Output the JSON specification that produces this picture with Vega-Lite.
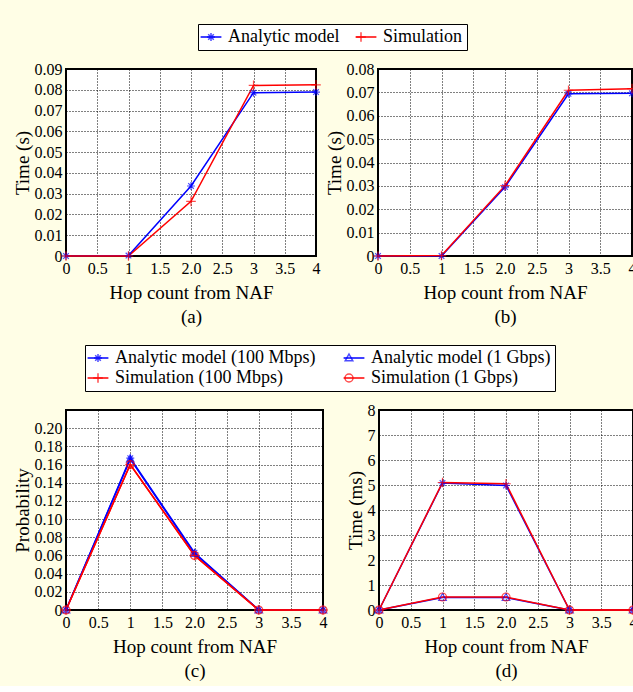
{
  "$schema": "https://vega.github.io/schema/vega-lite/v6.json",
  "background": "#fffee6",
  "padding": {"left": 12, "top": 22, "right": 0, "bottom": 5},
  "config": {
    "font": "Liberation Serif",
    "view": {"stroke": "black", "strokeWidth": 2, "fill": "white"},
    "axis": {
      "labelFont": "Liberation Serif", "labelFontSize": 16, "labelColor": "black",
      "titleFont": "Liberation Serif", "titleFontSize": 19, "titleFontWeight": "normal", "titleColor": "black",
      "grid": true, "gridColor": "#000000", "gridDash": [1, 2], "gridOpacity": 1, "gridWidth": 1,
      "domain": false, "ticks": false, "labelFlush": false, "labelOverlap": false
    },
    "axisX": {"labelPadding": 4, "titlePadding": 7, "titleLineHeight": 24},
    "axisY": {"labelPadding": 4, "titlePadding": 2},
    "legend": {
      "labelFont": "Liberation Serif", "labelFontSize": 18, "labelColor": "black", "labelLimit": 400,
      "fillColor": "white", "strokeColor": "black", "padding": 4,
      "symbolSize": 64, "symbolStrokeWidth": 1.5, "labelOffset": 8, "columnPadding": 12, "rowPadding": 2
    }
  },
  "datasets": {
    "a": [
      {"series": "Analytic model", "hop": 0, "value": 0},
      {"series": "Analytic model", "hop": 1, "value": 0.0002},
      {"series": "Analytic model", "hop": 2, "value": 0.0337},
      {"series": "Analytic model", "hop": 3, "value": 0.0786},
      {"series": "Analytic model", "hop": 4, "value": 0.0789},
      {"series": "Simulation", "hop": 0, "value": 0},
      {"series": "Simulation", "hop": 1, "value": 0},
      {"series": "Simulation", "hop": 2, "value": 0.0263},
      {"series": "Simulation", "hop": 3, "value": 0.0821},
      {"series": "Simulation", "hop": 4, "value": 0.0824}
    ],
    "b": [
      {"series": "Analytic model", "hop": 0, "value": 0},
      {"series": "Analytic model", "hop": 1, "value": 0},
      {"series": "Analytic model", "hop": 2, "value": 0.0295},
      {"series": "Analytic model", "hop": 3, "value": 0.0694},
      {"series": "Analytic model", "hop": 4, "value": 0.0696},
      {"series": "Simulation", "hop": 0, "value": 0},
      {"series": "Simulation", "hop": 1, "value": 0.0002},
      {"series": "Simulation", "hop": 2, "value": 0.0301},
      {"series": "Simulation", "hop": 3, "value": 0.0709},
      {"series": "Simulation", "hop": 4, "value": 0.0716}
    ],
    "c": [
      {"series": "Analytic model (100 Mbps)", "hop": 0, "value": 0},
      {"series": "Analytic model (100 Mbps)", "hop": 1, "value": 0.167},
      {"series": "Analytic model (100 Mbps)", "hop": 2, "value": 0.063},
      {"series": "Analytic model (100 Mbps)", "hop": 3, "value": 0},
      {"series": "Analytic model (100 Mbps)", "hop": 4, "value": 0},
      {"series": "Analytic model (1 Gbps)", "hop": 0, "value": 0},
      {"series": "Analytic model (1 Gbps)", "hop": 1, "value": 0.166},
      {"series": "Analytic model (1 Gbps)", "hop": 2, "value": 0.062},
      {"series": "Analytic model (1 Gbps)", "hop": 3, "value": 0},
      {"series": "Analytic model (1 Gbps)", "hop": 4, "value": 0},
      {"series": "Simulation (100 Mbps)", "hop": 0, "value": 0},
      {"series": "Simulation (100 Mbps)", "hop": 1, "value": 0.160},
      {"series": "Simulation (100 Mbps)", "hop": 2, "value": 0.060},
      {"series": "Simulation (100 Mbps)", "hop": 3, "value": 0},
      {"series": "Simulation (100 Mbps)", "hop": 4, "value": 0},
      {"series": "Simulation (1 Gbps)", "hop": 0, "value": 0},
      {"series": "Simulation (1 Gbps)", "hop": 1, "value": 0.160},
      {"series": "Simulation (1 Gbps)", "hop": 2, "value": 0.060},
      {"series": "Simulation (1 Gbps)", "hop": 3, "value": 0},
      {"series": "Simulation (1 Gbps)", "hop": 4, "value": 0}
    ],
    "d": [
      {"series": "Analytic model (100 Mbps)", "hop": 0, "value": 0},
      {"series": "Analytic model (100 Mbps)", "hop": 1, "value": 5.08},
      {"series": "Analytic model (100 Mbps)", "hop": 2, "value": 4.98},
      {"series": "Analytic model (100 Mbps)", "hop": 3, "value": 0},
      {"series": "Analytic model (100 Mbps)", "hop": 4, "value": 0},
      {"series": "Analytic model (1 Gbps)", "hop": 0, "value": 0},
      {"series": "Analytic model (1 Gbps)", "hop": 1, "value": 0.5},
      {"series": "Analytic model (1 Gbps)", "hop": 2, "value": 0.5},
      {"series": "Analytic model (1 Gbps)", "hop": 3, "value": 0},
      {"series": "Analytic model (1 Gbps)", "hop": 4, "value": 0},
      {"series": "Simulation (100 Mbps)", "hop": 0, "value": 0},
      {"series": "Simulation (100 Mbps)", "hop": 1, "value": 5.1},
      {"series": "Simulation (100 Mbps)", "hop": 2, "value": 5.05},
      {"series": "Simulation (100 Mbps)", "hop": 3, "value": 0},
      {"series": "Simulation (100 Mbps)", "hop": 4, "value": 0},
      {"series": "Simulation (1 Gbps)", "hop": 0, "value": 0},
      {"series": "Simulation (1 Gbps)", "hop": 1, "value": 0.52},
      {"series": "Simulation (1 Gbps)", "hop": 2, "value": 0.52},
      {"series": "Simulation (1 Gbps)", "hop": 3, "value": 0},
      {"series": "Simulation (1 Gbps)", "hop": 4, "value": 0}
    ]
  },
  "vconcat": [
    {
      "hconcat": [
        {
          "width": 250, "height": 187,
          "data": {"name": "a"},
          "encoding": {
            "x": {"field": "hop", "type": "quantitative", "scale": {"domain": [0, 4], "nice": false},
                  "axis": {"values": [0, 0.5, 1, 1.5, 2, 2.5, 3, 3.5, 4], "labelExpr": "datum.value == 2 ? '2.0' : format(datum.value, '~g')", "title": ["Hop count from NAF", "(a)"]}},
            "y": {"field": "value", "type": "quantitative", "scale": {"domain": [0, 0.09], "nice": false, "zero": true},
                  "axis": {"values": [0, 0.01, 0.02, 0.03, 0.04, 0.05, 0.06, 0.07, 0.08, 0.09], "labelExpr": "datum.value == 0 ? '0' : format(datum.value, '.2f')", "title": "Time (s)"}}
          },
          "layer": [
            {"mark": {"type": "line", "strokeWidth": 1.5},
             "encoding": {"color": {"field": "series", "type": "nominal",
                                    "scale": {"domain": ["Analytic model", "Simulation"], "range": ["#0000ff", "#ff0000"]},
                                    "legend": {"title": null, "orient": "none", "legendX": 132, "legendY": -45, "direction": "horizontal", "columns": 2, "symbolType": "M-2.6,0H2.6"}}}},
            {"mark": {"type": "point", "filled": false, "size": 64, "strokeWidth": 1.2},
             "encoding": {
               "stroke": {"field": "series", "type": "nominal",
                          "scale": {"domain": ["Analytic model", "Simulation"], "range": ["#0000ff", "#ff0000"]},
                          "legend": {"title": null, "orient": "none", "legendX": 132, "legendY": -45, "direction": "horizontal", "columns": 2, "fillColor": "transparent", "strokeColor": "transparent", "labelOpacity": 0}},
               "shape": {"field": "series", "type": "nominal",
                         "scale": {"domain": ["Analytic model", "Simulation"], "range": ["M-1,0H1M0,-1V1M-0.7,-0.7L0.7,0.7M-0.7,0.7L0.7,-0.7", "M-1.2,0H1.2M0,-1.2V1.2"]},
                         "legend": {"title": null, "orient": "none", "legendX": 132, "legendY": -45, "direction": "horizontal", "columns": 2, "fillColor": "transparent", "strokeColor": "transparent", "labelOpacity": 0}}}}
          ],
          "resolve": {"scale": {"stroke": "independent", "shape": "independent"}, "legend": {"stroke": "independent", "shape": "independent"}}
        },
        {
          "width": 254, "height": 187,
          "data": {"name": "b"},
          "encoding": {
            "x": {"field": "hop", "type": "quantitative", "scale": {"domain": [0, 4], "nice": false},
                  "axis": {"values": [0, 0.5, 1, 1.5, 2, 2.5, 3, 3.5, 4], "labelExpr": "datum.value == 2 ? '2.0' : format(datum.value, '~g')", "title": ["Hop count from NAF", "(b)"]}},
            "y": {"field": "value", "type": "quantitative", "scale": {"domain": [0, 0.08], "nice": false},
                  "axis": {"values": [0, 0.01, 0.02, 0.03, 0.04, 0.05, 0.06, 0.07, 0.08], "labelExpr": "datum.value == 0 ? '0' : format(datum.value, '.2f')", "title": "Time (s)"}}
          },
          "layer": [
            {"mark": {"type": "line", "strokeWidth": 1.5},
             "encoding": {"color": {"field": "series", "type": "nominal",
                                    "scale": {"domain": ["Analytic model", "Simulation"], "range": ["#0000ff", "#ff0000"]}, "legend": null}}},
            {"mark": {"type": "point", "filled": false, "size": 64, "strokeWidth": 1.2},
             "encoding": {
               "stroke": {"field": "series", "type": "nominal",
                          "scale": {"domain": ["Analytic model", "Simulation"], "range": ["#0000ff", "#ff0000"]}, "legend": null},
               "shape": {"field": "series", "type": "nominal",
                         "scale": {"domain": ["Analytic model", "Simulation"], "range": ["M-1,0H1M0,-1V1M-0.7,-0.7L0.7,0.7M-0.7,0.7L0.7,-0.7", "M-1.2,0H1.2M0,-1.2V1.2"]}, "legend": null}}}
          ],
          "resolve": {"scale": {"stroke": "independent", "shape": "independent"}, "legend": {"stroke": "independent", "shape": "independent"}}
        }
      ],
      "spacing": 62,
      "bounds": "flush",
      "resolve": {"scale": {"color": "independent", "stroke": "independent", "shape": "independent", "x": "independent", "y": "independent"}, "legend": {"color": "independent", "stroke": "independent", "shape": "independent"}}
    },
    {
      "hconcat": [
        {
          "width": 257, "height": 200,
          "data": {"name": "c"},
          "encoding": {
            "x": {"field": "hop", "type": "quantitative", "scale": {"domain": [0, 4], "nice": false},
                  "axis": {"values": [0, 0.5, 1, 1.5, 2, 2.5, 3, 3.5, 4], "labelExpr": "datum.value == 2 ? '2.0' : format(datum.value, '~g')", "title": ["Hop count from NAF", "(c)"]}},
            "y": {"field": "value", "type": "quantitative", "scale": {"domain": [0, 0.22], "nice": false},
                  "axis": {"values": [0, 0.02, 0.04, 0.06, 0.08, 0.1, 0.12, 0.14, 0.16, 0.18, 0.2], "labelExpr": "datum.value == 0 ? '0' : format(datum.value, '.2f')", "title": "Probability"}}
          },
          "layer": [
            {"mark": {"type": "line", "strokeWidth": 1.5},
             "encoding": {"color": {"field": "series", "type": "nominal",
                                    "scale": {"domain": ["Analytic model (100 Mbps)", "Analytic model (1 Gbps)", "Simulation (100 Mbps)", "Simulation (1 Gbps)"], "range": ["#0000ff", "#0000ff", "#ff0000", "#ff0000"]},
                                    "legend": {"title": null, "orient": "none", "legendX": 19, "legendY": -65, "direction": "horizontal", "columns": 2, "columnPadding": 24, "symbolType": "M-2.6,0H2.6"}}}},
            {"mark": {"type": "point", "filled": false, "size": 64, "strokeWidth": 1.2},
             "encoding": {
               "stroke": {"field": "series", "type": "nominal",
                          "scale": {"domain": ["Analytic model (100 Mbps)", "Analytic model (1 Gbps)", "Simulation (100 Mbps)", "Simulation (1 Gbps)"], "range": ["#0000ff", "#0000ff", "#ff0000", "#ff0000"]},
                          "legend": {"title": null, "orient": "none", "legendX": 19, "legendY": -65, "direction": "horizontal", "columns": 2, "columnPadding": 24, "fillColor": "transparent", "strokeColor": "transparent", "labelOpacity": 0}},
               "shape": {"field": "series", "type": "nominal",
                         "scale": {"domain": ["Analytic model (100 Mbps)", "Analytic model (1 Gbps)", "Simulation (100 Mbps)", "Simulation (1 Gbps)"], "range": ["M-1,0H1M0,-1V1M-0.7,-0.7L0.7,0.7M-0.7,0.7L0.7,-0.7", "M0,-1L0.95,0.7L-0.95,0.7Z", "M-1.2,0H1.2M0,-1.2V1.2", "M1,0A1,1 0 1,1 -1,0A1,1 0 1,1 1,0"]},
                         "legend": {"title": null, "orient": "none", "legendX": 19, "legendY": -65, "direction": "horizontal", "columns": 2, "columnPadding": 24, "fillColor": "transparent", "strokeColor": "transparent", "labelOpacity": 0}}}}
          ],
          "resolve": {"scale": {"stroke": "independent", "shape": "independent"}, "legend": {"stroke": "independent", "shape": "independent"}}
        },
        {
          "width": 254, "height": 200,
          "data": {"name": "d"},
          "encoding": {
            "x": {"field": "hop", "type": "quantitative", "scale": {"domain": [0, 4], "nice": false},
                  "axis": {"values": [0, 0.5, 1, 1.5, 2, 2.5, 3, 3.5, 4], "labelExpr": "datum.value == 2 ? '2.0' : format(datum.value, '~g')", "title": ["Hop count from NAF", "(d)"]}},
            "y": {"field": "value", "type": "quantitative", "scale": {"domain": [0, 8], "nice": false},
                  "axis": {"values": [0, 1, 2, 3, 4, 5, 6, 7, 8], "format": "d", "title": "Time (ms)"}}
          },
          "layer": [
            {"mark": {"type": "line", "strokeWidth": 1.5},
             "encoding": {"color": {"field": "series", "type": "nominal",
                                    "scale": {"domain": ["Analytic model (100 Mbps)", "Analytic model (1 Gbps)", "Simulation (100 Mbps)", "Simulation (1 Gbps)"], "range": ["#0000ff", "#0000ff", "#ff0000", "#ff0000"]}, "legend": null}}},
            {"mark": {"type": "point", "filled": false, "size": 64, "strokeWidth": 1.2},
             "encoding": {
               "stroke": {"field": "series", "type": "nominal",
                          "scale": {"domain": ["Analytic model (100 Mbps)", "Analytic model (1 Gbps)", "Simulation (100 Mbps)", "Simulation (1 Gbps)"], "range": ["#0000ff", "#0000ff", "#ff0000", "#ff0000"]}, "legend": null},
               "shape": {"field": "series", "type": "nominal",
                         "scale": {"domain": ["Analytic model (100 Mbps)", "Analytic model (1 Gbps)", "Simulation (100 Mbps)", "Simulation (1 Gbps)"], "range": ["M-1,0H1M0,-1V1M-0.7,-0.7L0.7,0.7M-0.7,0.7L0.7,-0.7", "M0,-1L0.95,0.7L-0.95,0.7Z", "M-1.2,0H1.2M0,-1.2V1.2", "M1,0A1,1 0 1,1 -1,0A1,1 0 1,1 1,0"]}, "legend": null}}}
          ],
          "resolve": {"scale": {"stroke": "independent", "shape": "independent"}, "legend": {"stroke": "independent", "shape": "independent"}}
        }
      ],
      "spacing": 56,
      "bounds": "flush",
      "resolve": {"scale": {"color": "independent", "stroke": "independent", "shape": "independent", "x": "independent", "y": "independent"}, "legend": {"color": "independent", "stroke": "independent", "shape": "independent"}}
    }
  ],
  "spacing": 341,
  "bounds": "flush",
  "resolve": {"scale": {"color": "independent", "stroke": "independent", "shape": "independent", "x": "independent", "y": "independent"}, "legend": {"color": "independent", "stroke": "independent", "shape": "independent"}}
}
